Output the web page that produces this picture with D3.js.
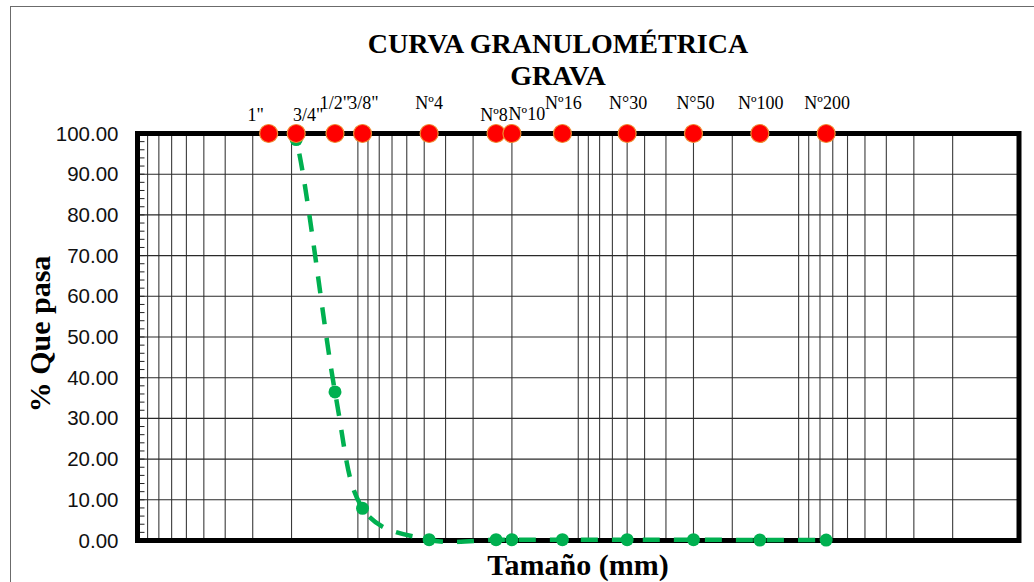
<!DOCTYPE html>
<html>
<head>
<meta charset="utf-8">
<script src="https://cdn.jsdelivr.net/npm/d3@7"></script>
<style>
  html, body { margin: 0; padding: 0; background: #fff; }
  svg { display: block; }
</style>
</head>
<body>
<svg id="chart" width="1034" height="582"></svg>
<script>
// ---- data ----
const sieveLabels = ['1"', '3/4"', '1/2"', '3/8"', 'Nº4', 'Nº8', 'Nº10', 'Nº16', 'N°30', 'N°50', 'Nº100', 'Nº200'];
const sieveOpeningMm = [25.4, 19.05, 12.7, 9.525, 4.75, 2.36, 2.0, 1.18, 0.6, 0.3, 0.15, 0.075];
const percentPassing = [100, 98.5, 36.5, 7.9, 0.2, 0.2, 0.2, 0.2, 0.2, 0.2, 0.1, 0.1];
const sieveMarkerValue = [100, 100, 100, 100, 100, 100, 100, 100, 100, 100, 100, 100];
const yTickValues = [0, 10, 20, 30, 40, 50, 60, 70, 80, 90, 100];
const xDomainMm = [100, 0.01];
const titleLines = ['CURVA GRANULOMÉTRICA', 'GRAVA'];
const yTitle = '% Que pasa';
const xTitle = 'Tamaño (mm)';

// ---- layout (not data) ----
const labelDx = [-13, 12, 0, 1, 0, -2, 15, 1, 1, 2, 1, 1];
const labelRaise = [13, 13, 25, 25, 25, 13, 14, 25, 25, 25, 25, 25];
const plot = { left: 137.5, right: 1019, top: 133.5, bottom: 540.5 };

const svg = d3.select('#chart');

svg.append('defs').append('clipPath').attr('id', 'plotClip')
  .append('rect')
  .attr('x', plot.left).attr('y', plot.top)
  .attr('width', plot.right - plot.left).attr('height', plot.bottom - plot.top + 4);

// outer chart frame
svg.append('rect')
  .attr('x', 10.5).attr('y', 6.5)
  .attr('width', 1100).attr('height', 700)
  .attr('fill', '#fff').attr('stroke', '#6b6b6b').attr('stroke-width', 1);

const x = d3.scaleLog().domain(xDomainMm).range([plot.left, plot.right]);
const y = d3.scaleLinear().domain([0, 100]).range([plot.bottom, plot.top]);

// vertical log gridlines (major + minor)
const gridX = [];
for (let e = -2; e <= 1; e++) {
  for (let m = 1; m <= 9; m++) {
    const v = m * Math.pow(10, e);
    if (v > 0.01 && v < 100) gridX.push(v);
  }
}
svg.append('g').selectAll('line').data(gridX).join('line')
  .attr('x1', d => x(d)).attr('x2', d => x(d))
  .attr('y1', plot.top).attr('y2', plot.bottom)
  .attr('stroke', '#3a3a3a').attr('stroke-width', 1.1);

// horizontal gridlines
svg.append('g').selectAll('line').data(yTickValues.filter(d => d > 0 && d < 100)).join('line')
  .attr('x1', plot.left).attr('x2', plot.right)
  .attr('y1', d => y(d)).attr('y2', d => y(d))
  .attr('stroke', '#2a2a2a').attr('stroke-width', 1.1);

// y axis with labels
const yAxis = d3.axisLeft(y).tickValues(yTickValues).tickFormat(d3.format('.2f')).tickSize(0).tickPadding(19);
const gy = svg.append('g').attr('transform', `translate(${plot.left},0)`).call(yAxis);
gy.select('.domain').remove();
gy.selectAll('text')
  .attr('font-family', 'Liberation Sans, Arial, sans-serif')
  .attr('font-size', 20.5).attr('fill', '#111');

// minor inside ticks on y axis
const minorY = d3.range(0, 101, 2);
svg.append('g').selectAll('line').data(minorY).join('line')
  .attr('x1', plot.left).attr('x2', plot.left + 7)
  .attr('y1', d => y(d)).attr('y2', d => y(d))
  .attr('stroke', '#222').attr('stroke-width', 1);

// plot frame (thick)
svg.append('rect')
  .attr('x', plot.left).attr('y', plot.top)
  .attr('width', plot.right - plot.left).attr('height', plot.bottom - plot.top)
  .attr('fill', 'none').attr('stroke', '#000').attr('stroke-width', 5);

// grading curve
const pts = sieveOpeningMm.map((d, i) => [x(d), y(percentPassing[i])]);
const line = d3.line().curve(d3.curveCardinal.tension(0));
svg.append('path')
  .attr('d', line(pts))
  .attr('clip-path', 'url(#plotClip)')
  .attr('fill', 'none').attr('stroke', '#00B050').attr('stroke-width', 4.5)
  .attr('stroke-dasharray', '17,14');

svg.append('g').selectAll('circle').data(sieveOpeningMm).join('circle')
  .attr('cx', d => x(d)).attr('cy', (d, i) => y(percentPassing[i]))
  .attr('r', 6.5).attr('fill', '#00B050');

// sieve markers
svg.append('g').selectAll('circle').data(sieveOpeningMm).join('circle')
  .attr('cx', d => x(d)).attr('cy', (d, i) => y(sieveMarkerValue[i]))
  .attr('r', 9).attr('fill', '#FF0000').attr('stroke', '#F08A30').attr('stroke-width', 1.2);

svg.append('g').selectAll('text').data(sieveLabels).join('text')
  .attr('x', (d, i) => x(sieveOpeningMm[i]) + labelDx[i])
  .attr('y', (d, i) => y(sieveMarkerValue[i]) - labelRaise[i])
  .attr('text-anchor', 'middle')
  .attr('font-family', 'Liberation Serif, Times New Roman, serif')
  .attr('font-size', 18).attr('fill', '#000')
  .text(d => d);

// titles
svg.append('g').selectAll('text').data(titleLines).join('text')
  .attr('x', 558).attr('y', (d, i) => 53 + i * 32)
  .attr('text-anchor', 'middle')
  .attr('font-family', 'Liberation Serif, Times New Roman, serif')
  .attr('font-weight', 'bold').attr('font-size', 28)
  .text(d => d);

svg.append('text')
  .attr('transform', 'translate(50,334) rotate(-90)')
  .attr('text-anchor', 'middle')
  .attr('font-family', 'Liberation Serif, Times New Roman, serif')
  .attr('font-weight', 'bold').attr('font-size', 30)
  .text(yTitle);

svg.append('text')
  .attr('x', 578).attr('y', 575)
  .attr('text-anchor', 'middle')
  .attr('font-family', 'Liberation Serif, Times New Roman, serif')
  .attr('font-weight', 'bold').attr('font-size', 30)
  .text(xTitle);
</script>
</body>
</html>
